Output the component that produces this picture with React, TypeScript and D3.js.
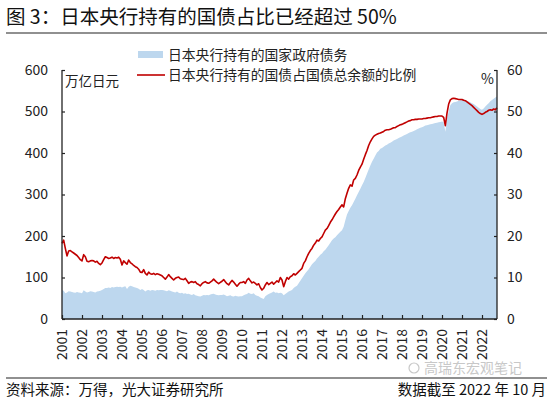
import React, { useEffect, useRef } from "react";
import * as d3 from "d3";

// monthly data, Jan 2001 .. Oct 2022
const startYear = 2001;
const yearTicks = d3.range(2001, 2023);

// 日本央行持有的国家政府债务（万亿日元）
const holdings = [
  70, 68, 62, 64, 67, 66, 65, 64, 63, 65, 64, 63, // 2001
  62, 69, 66, 64, 65, 67, 66, 65, 64, 66, 67, 68, // 2002
  70, 72, 75, 75, 76, 75, 77, 76, 77, 78, 77, 78, // 2003
  76, 78, 79, 72, 78, 80, 79, 77, 76, 75, 73, 70, // 2004
  72, 70, 66, 69, 70, 68, 70, 69, 68, 70, 69, 70, // 2005
  70, 69, 68, 67, 69, 68, 66, 65, 64, 66, 63, 62, // 2006
  63, 61, 62, 60, 61, 59, 58, 60, 57, 56, 55, 54, // 2007
  56, 58, 57, 58, 57, 59, 60, 61, 59, 58, 57, 58, // 2008
  58, 59, 57, 55, 56, 57, 55, 54, 56, 55, 54, 55, // 2009
  55, 57, 59, 60, 63, 61, 60, 62, 58, 56, 55, 52, // 2010
  50, 48, 55, 58, 60, 62, 64, 66, 63, 64, 62, 63, // 2011
  62, 57, 60, 63, 66, 68, 70, 75, 78, 80, 86, 92, // 2012
  98, 104, 110, 115, 120, 126, 132, 136, 140, 146, 150, 155, // 2013
  158, 163, 167, 172, 178, 184, 190, 194, 197, 202, 206, 210, // 2014
  214, 222, 238, 252, 260, 268, 274, 282, 290, 298, 306, 314, // 2015
  322, 330, 340, 350, 360, 370, 379, 386, 394, 401, 405, 410, // 2016
  412, 415, 418, 420, 423, 425, 427, 430, 432, 434, 436, 438, // 2017
  440, 442, 444, 446, 448, 450, 451, 453, 455, 457, 459, 461, // 2018
  462, 464, 466, 467, 468, 469, 470, 471, 472, 473, 474, 475, // 2019
  476, 474, 451, 484, 500, 515, 520, 522, 523, 524, 526, 527, // 2020
  528, 529, 528, 526, 524, 522, 520, 518, 515, 512, 509, 506, // 2021
  504, 507, 512, 516, 520, 525, 528, 531, 534, 536, // 2022
];

// 日本央行持有的国债占国债总余额的比例（%）
const sharePct = [
  18.2, 19.0, 17.0, 15.2, 16.4, 16.5, 16.2, 15.9, 15.6, 15.3, 14.8, 14.3, // 2001
  14.0, 15.5, 15.0, 13.9, 13.8, 14.0, 14.1, 14.0, 13.7, 13.9, 13.4, 13.1, // 2002
  13.5, 14.3, 15.0, 14.8, 14.6, 14.7, 14.9, 14.6, 14.8, 14.7, 14.9, 14.4, // 2003
  13.0, 14.0, 13.6, 13.2, 14.2, 13.6, 13.3, 12.9, 12.6, 12.4, 12.0, 11.3, // 2004
  11.2, 11.9, 11.0, 10.6, 11.3, 10.9, 10.8, 11.0, 10.7, 10.9, 10.8, 10.6, // 2005
  10.4, 10.0, 9.6, 10.1, 10.7, 10.2, 9.8, 9.4, 9.8, 10.0, 10.1, 9.7, // 2006
  9.6, 9.5, 9.8, 9.2, 8.6, 8.9, 9.0, 8.8, 9.0, 8.5, 8.3, 8.0, // 2007
  8.5, 8.8, 9.0, 8.7, 8.6, 8.9, 9.2, 9.6, 9.2, 8.8, 8.5, 8.8, // 2008
  9.1, 9.5, 9.0, 8.5, 8.2, 8.8, 9.3, 8.9, 8.4, 7.9, 8.4, 8.8, // 2009
  8.8, 9.0, 8.6, 9.4, 9.8, 9.2, 8.7, 8.9, 8.6, 8.2, 8.5, 7.6, // 2010
  7.0, 7.4, 8.2, 8.8, 8.3, 8.6, 8.9, 8.4, 8.8, 9.2, 8.9, 10.0, // 2011
  9.4, 7.8, 9.0, 10.0, 9.6, 10.2, 10.4, 10.9, 10.6, 11.0, 11.4, 11.8, // 2012
  12.2, 13.4, 14.0, 15.0, 15.8, 16.5, 17.0, 17.8, 18.3, 19.0, 18.8, 19.4, // 2013
  19.8, 20.6, 21.4, 21.8, 22.5, 23.3, 23.9, 24.6, 25.3, 25.9, 26.4, 27.0, // 2014
  27.5, 27.0, 29.0, 30.3, 31.5, 32.3, 32.0, 33.5, 33.9, 34.7, 35.8, 36.6, // 2015
  37.3, 38.5, 39.6, 40.6, 41.8, 42.7, 43.4, 44.0, 44.3, 44.5, 44.7, 44.8, // 2016
  45.0, 45.2, 45.5, 45.6, 45.6, 45.7, 45.9, 46.1, 46.1, 46.4, 46.6, 46.8, // 2017
  46.9, 47.1, 47.3, 47.5, 47.7, 47.8, 48.0, 48.0, 48.1, 48.1, 48.2, 48.2, // 2018
  48.2, 48.3, 48.3, 48.4, 48.5, 48.5, 48.6, 48.7, 48.8, 48.8, 48.9, 48.9, // 2019
  48.9, 48.6, 46.6, 49.6, 51.8, 52.8, 53.1, 53.2, 53.1, 53.0, 52.9, 52.9, // 2020
  52.9, 52.7, 52.6, 52.3, 52.0, 51.7, 51.4, 51.0, 50.6, 50.2, 49.8, 49.5, // 2021
  49.3, 49.5, 49.8, 50.0, 50.3, 50.4, 50.3, 50.6, 50.4, 50.9, // 2022
];

const leftTicks = [0, 100, 200, 300, 400, 500, 600];
const rightTicks = [0, 10, 20, 30, 40, 50, 60];

const font = "'Noto Sans CJK SC', 'Noto Sans', sans-serif";

export default function App() {
  const ref = useRef<SVGSVGElement>(null);

  useEffect(() => {
    document.body.style.margin = "0";
    const svg = d3.select(ref.current);
    svg.selectAll("*").remove();

    const left = 62, right = 497, top = 70, bottom = 319;
    const t = (i: number) => startYear + i / 12;

    const x = d3.scaleLinear().domain([2001, 2022.75]).range([left, right]);
    const yL = d3.scaleLinear().domain([0, 600]).range([bottom, top]);
    const yR = d3.scaleLinear().domain([0, 60]).range([bottom, top]);

    const g = svg.append("g").style("font-family", font);

    // title
    g.append("text")
      .attr("x", 6).attr("y", 24)
      .attr("font-size", 19.5).attr("fill", "#111")
      .text("图 3：日本央行持有的国债占比已经超过 50%");
    g.append("line")
      .attr("x1", 6).attr("x2", 547).attr("y1", 33).attr("y2", 33)
      .attr("stroke", "#222").attr("stroke-width", 1.2);

    // area
    g.append("path")
      .datum(holdings)
      .attr("fill", "#bdd7ee")
      .attr("d", d3.area<number>()
        .x((d, i) => x(t(i)))
        .y0(yL(0))
        .y1((d) => yL(d)));

    // line
    g.append("path")
      .datum(sharePct)
      .attr("fill", "none")
      .attr("stroke", "#c00000")
      .attr("stroke-width", 1.6)
      .attr("stroke-linejoin", "round")
      .attr("d", d3.line<number>()
        .x((d, i) => x(t(i)))
        .y((d) => yR(d)));

    // axes
    const axisLeft = d3.axisLeft(yL).tickValues(leftTicks).tickSize(-3).tickPadding(14);
    const axisRight = d3.axisRight(yR).tickValues(rightTicks).tickSize(-3).tickPadding(10);
    const axisBottom = d3.axisBottom(x).tickValues(yearTicks).tickSize(-4).tickFormat(d3.format("d"));

    const styleAxis = (sel: any) => {
      sel.select(".domain").attr("stroke", "#222").attr("stroke-width", 1.3);
      sel.selectAll(".tick line").attr("stroke", "#222").attr("stroke-width", 1.2);
      sel.selectAll("text").attr("font-size", 14).attr("fill", "#222").style("font-family", font);
    };

    const gl = g.append("g").attr("transform", `translate(${left},0)`).call(axisLeft);
    gl.select(".domain").attr("d", `M-0,${top}V${bottom}`);
    styleAxis(gl);

    const gr = g.append("g").attr("transform", `translate(${right},0)`).call(axisRight);
    gr.select(".domain").attr("d", `M0,${top}V${bottom}`);
    styleAxis(gr);

    const gb = g.append("g").attr("transform", `translate(0,${bottom})`).call(axisBottom);
    gb.select(".domain").attr("d", `M${left},0H${right}`);
    styleAxis(gb);
    gb.selectAll(".tick text")
      .attr("transform", "rotate(-90)")
      .attr("text-anchor", "end")
      .attr("x", -10)
      .attr("y", 0)
      .attr("dy", "0.35em");

    // unit labels
    g.append("text").attr("x", 65).attr("y", 86).attr("font-size", 13.5).attr("fill", "#222").text("万亿日元");
    g.append("text").attr("x", 494).attr("y", 84).attr("font-size", 14).attr("text-anchor", "end").attr("fill", "#222").text("%");

    // legend
    g.append("rect").attr("x", 138).attr("y", 51).attr("width", 25).attr("height", 7).attr("fill", "#bdd7ee");
    g.append("text").attr("x", 168).attr("y", 59.5).attr("font-size", 13.8).attr("fill", "#222")
      .text("日本央行持有的国家政府债务");
    g.append("line").attr("x1", 137).attr("x2", 165).attr("y1", 75).attr("y2", 75)
      .attr("stroke", "#c00000").attr("stroke-width", 1.6);
    g.append("text").attr("x", 168).attr("y", 80).attr("font-size", 13.8).attr("fill", "#222")
      .text("日本央行持有的国债占国债总余额的比例");

    // footer
    g.append("line")
      .attr("x1", 6).attr("x2", 547).attr("y1", 378).attr("y2", 378)
      .attr("stroke", "#222").attr("stroke-width", 1.2);
    g.append("text").attr("x", 424).attr("y", 373).attr("font-size", 14).attr("fill", "#c8c8c8")
      .text("高瑞东宏观笔记");
    g.append("circle").attr("cx", 414).attr("cy", 368).attr("r", 5)
      .attr("fill", "none").attr("stroke", "#c8c8c8").attr("stroke-width", 1.2);
    g.append("text").attr("x", 6).attr("y", 395).attr("font-size", 14.5).attr("fill", "#111")
      .text("资料来源：万得，光大证券研究所");
    g.append("text").attr("x", 546).attr("y", 395).attr("font-size", 14.5).attr("text-anchor", "end").attr("fill", "#111")
      .text("数据截至 2022 年 10 月");
  }, []);

  return <svg ref={ref} width={550} height={399} style={{ display: "block", background: "#fff" }} />;
}
